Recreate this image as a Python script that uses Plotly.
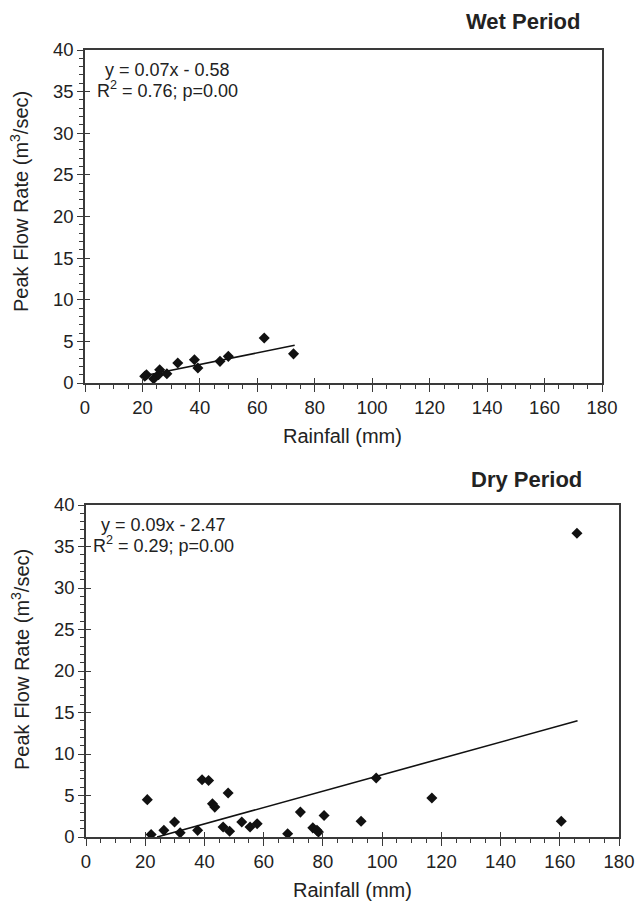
import plotly.graph_objects as go

# ---- data ----
wet_rain = [20.8, 21.4, 23.9, 25.6, 26.0, 28.5, 32.3, 38.1, 39.3, 47.0, 49.9, 62.4, 72.6]
wet_flow = [0.8, 1.0, 0.5, 1.0, 1.6, 1.1, 2.4, 2.8, 1.8, 2.6, 3.2, 5.4, 3.5]
wet_fit_x = [21, 73]
wet_slope, wet_icept = 0.07, -0.58

dry_rain = [20.7, 22.0, 26.3, 29.9, 31.8, 37.7, 39.2, 41.4, 42.7, 43.5, 48.0, 46.3, 48.5,
            52.6, 55.4, 57.8, 68.1, 72.4, 76.6, 78.0, 78.5, 80.4, 92.9, 98.0, 116.8, 160.5, 165.8]
dry_flow = [4.5, 0.3, 0.8, 1.8, 0.5, 0.8, 6.9, 6.8, 4.0, 3.6, 5.3, 1.2, 0.7,
            1.8, 1.2, 1.6, 0.4, 3.0, 1.1, 0.8, 0.6, 2.6, 1.9, 7.1, 4.7, 1.9, 36.6]
dry_fit_x = [24, 166]
dry_fit_y = [0.0, 14.0]

wet_eq = ["y = 0.07x - 0.58", "R<sup>2</sup> = 0.76; p=0.00"]
dry_eq = ["y = 0.09x - 2.47", "R<sup>2</sup> = 0.29; p=0.00"]
titles = ["Wet Period", "Dry Period"]
x_title = "Rainfall (mm)"
y_title = "Peak Flow Rate (m<sup>3</sup>/sec)"

W, H = 635, 907
OFF = 0  # body margin removed via post_script
FONT = "Liberation Sans, Arial, sans-serif"
TXT = "#222222"
LINE = "#3a3a3a"

wet_fit_y = [wet_slope * v + wet_icept for v in wet_fit_x]

fig = go.Figure()

# panel pixel boxes on screen (left, right, top, bottom)
panels = [(85, 602, 50, 383), (86, 619, 505, 837)]

def px(x):
    return (x - OFF) / W

def py(y):
    return 1 - (y - OFF) / H

def dom_x(l, r):
    return [px(l), px(r)]

def dom_y(t, b):
    return [py(b), py(t)]

marker = dict(symbol="diamond", size=8.5, color="#111111")

fig.add_trace(go.Scatter(x=wet_rain, y=wet_flow, mode="markers", marker=marker,
                         xaxis="x", yaxis="y", showlegend=False))
fig.add_trace(go.Scatter(x=wet_fit_x, y=wet_fit_y, mode="lines",
                         line=dict(color="#111111", width=1.6),
                         xaxis="x", yaxis="y", showlegend=False))
fig.add_trace(go.Scatter(x=dry_rain, y=dry_flow, mode="markers", marker=marker,
                         xaxis="x2", yaxis="y2", showlegend=False))
fig.add_trace(go.Scatter(x=dry_fit_x, y=dry_fit_y, mode="lines",
                         line=dict(color="#111111", width=1.6),
                         xaxis="x2", yaxis="y2", showlegend=False))

tickfont = dict(family=FONT, size=18.5, color=TXT)

def xaxis(dom, anchor):
    return dict(domain=dom, anchor=anchor, range=[0, 180], dtick=20, tick0=0,
                automargin=False,
                showgrid=False, zeroline=False, showline=True, linecolor=LINE,
                linewidth=1.5, mirror=True, ticks="outside", ticklen=7,
                tickcolor=LINE, tickwidth=1.2, tickfont=tickfont,
                minor=dict(dtick=5, ticks="outside", ticklen=4, tickcolor=LINE, tickwidth=1))

def yaxis(dom, anchor):
    return dict(domain=dom, anchor=anchor, range=[0, 40], dtick=5, tick0=0,
                automargin=False,
                showgrid=False, zeroline=False, showline=True, linecolor=LINE,
                linewidth=1.5, mirror=True, ticks="outside", ticklen=6,
                tickcolor=LINE, tickwidth=1.2, tickfont=tickfont,
                minor=dict(dtick=1, ticks="outside", ticklen=4, tickcolor=LINE, tickwidth=1))

def overlay(over, anchor, side, rng, dt):
    return dict(overlaying=over, anchor=anchor, side=side, range=rng, dtick=dt,
                automargin=False, ticks="inside", ticklen=5, tickcolor=LINE, tickwidth=1.2,
                showticklabels=False, showgrid=False, zeroline=False, showline=False)

(l1, r1, t1, b1), (l2, r2, t2, b2) = panels
fig.update_layout(
    width=W, height=H,
    margin=dict(l=0, r=0, t=0, b=0),
    paper_bgcolor="white", plot_bgcolor="white",
    font=dict(family=FONT, color=TXT),
    xaxis=xaxis(dom_x(l1, r1), "y"),
    yaxis=yaxis(dom_y(t1, b1), "x"),
    xaxis2=xaxis(dom_x(l2, r2), "y2"),
    yaxis2=yaxis(dom_y(t2, b2), "x2"),
    # inner halves of major ticks (crossing ticks)
    xaxis3=overlay("x", "y", "bottom", [0, 180], 20),
    yaxis3=overlay("y", "x", "left", [0, 40], 5),
    xaxis4=overlay("x2", "y2", "bottom", [0, 180], 20),
    yaxis4=overlay("y2", "x2", "left", [0, 40], 5),
)

fig.add_trace(go.Scatter(x=[None], y=[None], xaxis="x3", yaxis="y3", showlegend=False, hoverinfo="skip"))
fig.add_trace(go.Scatter(x=[None], y=[None], xaxis="x4", yaxis="y4", showlegend=False, hoverinfo="skip"))

ann = []
eqfont = dict(family=FONT, size=18, color=TXT)
for (l, r, t, b), eq, cx in [(panels[0], wet_eq, 167), (panels[1], dry_eq, 163)]:
    for i, line in enumerate(eq):
        ann.append(dict(text=line, xref="paper", yref="paper", x=px(cx),
                        y=py(t + 20 + 19 * i), xanchor="center", yanchor="middle",
                        showarrow=False, font=eqfont))
for txt, cx, cy in [(titles[0], 523, 22), (titles[1], 526, 479)]:
    ann.append(dict(text="<b>" + txt + "</b>", xref="paper", yref="paper", x=px(cx),
                    y=py(cy), xanchor="center", yanchor="middle", showarrow=False,
                    font=dict(family=FONT, size=22, color=TXT)))
axfont = dict(family=FONT, size=20, color=TXT)
for cx, cy in [(342, 436), (352, 890)]:
    ann.append(dict(text=x_title, xref="paper", yref="paper", x=px(cx), y=py(cy),
                    xanchor="center", yanchor="middle", showarrow=False, font=axfont))
for cx, cy in [(20, 202), (20, 660)]:
    ann.append(dict(text=y_title, xref="paper", yref="paper", x=px(cx), y=py(cy),
                    xanchor="center", yanchor="middle", showarrow=False, textangle=-90,
                    font=axfont))
fig.update_layout(annotations=ann)

fig.write_html("out.html", config={"displayModeBar": False},
               post_script="document.body.style.margin='0';document.body.style.overflow='hidden';")
